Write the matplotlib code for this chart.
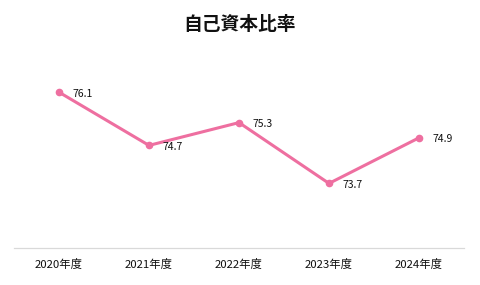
import matplotlib
matplotlib.use("Agg")
import matplotlib.pyplot as plt

plt.rcParams['font.family'] = ['Noto Sans CJK JP', 'DejaVu Sans']

# データ
years = ['2020年度', '2021年度', '2022年度', '2023年度', '2024年度']
ratio = [76.1, 74.7, 75.3, 73.7, 74.9]

line_color = '#EE6FA0'

fig = plt.figure(figsize=(4.8, 2.85), dpi=100)
ax = fig.add_axes([14 / 480, 1 - 248 / 285, 450 / 480, 190 / 285])

x = list(range(len(years)))
ax.plot(x, ratio, color=line_color, linewidth=2.2, marker='o', markersize=4.5,
        solid_capstyle='round')

for xi, v in zip(x, ratio):
    ax.annotate(f'{v:.1f}', (xi, v), xytext=(9.5, -1), textcoords='offset points',
                ha='left', va='center', fontsize=7.5, color='#111111')

ax.set_xlim(-0.5, len(years) - 0.5)
ax.set_ylim(72, 77)
ax.set_xticks(x)
ax.set_xticklabels(years, fontsize=8.2, color='#111111')
ax.set_yticks([])
ax.tick_params(axis='x', length=0, pad=8)

for side in ['top', 'right', 'left']:
    ax.spines[side].set_visible(False)
ax.spines['bottom'].set_color('#D9D9D9')
ax.spines['bottom'].set_linewidth(0.9)

fig.text(0.5, 1 - 25 / 285, '自己資本比率', ha='center', va='center',
         fontsize=13.5, fontweight='bold', color='#111111')

fig.savefig('out.png', dpi=100)
